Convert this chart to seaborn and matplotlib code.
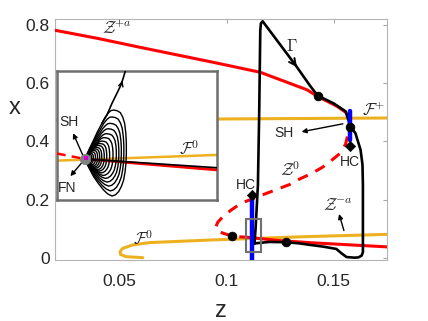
import numpy as np
import matplotlib
matplotlib.use("Agg")
import matplotlib.pyplot as plt
import seaborn as sns
from matplotlib.patches import Rectangle

# --- STYLE ---
sns.set_theme(style="white")
plt.rcParams['font.family'] = ['Liberation Sans', 'DejaVu Sans']
plt.rcParams['mathtext.fontset'] = 'cm'

RED = '#ff0000'
YELLOW = '#edb120'
BLUE = '#0000ff'
TXT = '#262626'

# --- DATA ---
# critical manifold, attracting upper branch Z^{+a}
ZPA_Z = [0.02, 0.04, 0.06, 0.0939, 0.1157, 0.1375, 0.1425, 0.1516, 0.1555, 0.1575]
ZPA_X = [0.781, 0.753, 0.722, 0.671, 0.637, 0.577, 0.554, 0.520, 0.500, 0.482]
# repelling middle branch Z^0 (dashed)
Z0_Z = [0.1575, 0.1568, 0.1555, 0.1528, 0.1495, 0.1449, 0.1397, 0.1341, 0.1294, 0.118,
        0.1069, 0.1022, 0.0983, 0.0958, 0.0949, 0.0958, 0.0983, 0.103, 0.1095]
Z0_X = [0.482, 0.43, 0.39, 0.358, 0.338, 0.312, 0.290, 0.271, 0.252, 0.220,
        0.188, 0.165, 0.142, 0.122, 0.105, 0.093, 0.085, 0.074, 0.071]
# attracting lower branch Z^{-a}
ZMA_Z = [0.1095, 0.1248, 0.14, 0.16, 0.175]
ZMA_X = [0.071, 0.0595, 0.052, 0.044, 0.038]
# folded-node curves
FPLUS_Z = [0.02, 0.175]
FPLUS_X = [0.4733, 0.4802]
F0_Z = [0.0609, 0.0531, 0.0505, 0.0503, 0.0515, 0.0562, 0.064, 0.0936, 0.1364, 0.175]
F0_X = [0.001, 0.0045, 0.012, 0.022, 0.033, 0.0447, 0.0527, 0.062, 0.073, 0.081]
# periodic orbit Gamma
GAM_Z = [0.113, 0.1135, 0.1146, 0.1152, 0.1157, 0.1160, 0.1168, 0.1215, 0.1326, 0.1391,
         0.1425, 0.150, 0.1555, 0.1578, 0.1601, 0.1625, 0.1634, 0.1636, 0.1636, 0.1630,
         0.1615, 0.1598, 0.156, 0.1536, 0.1512, 0.145, 0.1388, 0.134, 0.1277, 0.12, 0.113]
GAM_X = [0.05, 0.1, 0.25, 0.5, 0.78, 0.805, 0.812, 0.766, 0.657, 0.589,
         0.557, 0.530, 0.503, 0.451, 0.428, 0.371, 0.32, 0.25, 0.02, 0.008,
         0.002, 0.001, 0.003, 0.016, 0.031, 0.039, 0.045, 0.050, 0.054, 0.055, 0.05]
# thick blue segments
BLUE1_Z, BLUE1_X = [0.1117, 0.1117], [-0.01, 0.20]
BLUE2_Z, BLUE2_X = [0.1575, 0.1575], [0.405, 0.505]
# markers
HC_Z, HC_X = [0.1117, 0.1575], [0.216, 0.385]
DOT_Z = [0.1425, 0.1578, 0.1025, 0.1277]
DOT_X = [0.554, 0.448, 0.077, 0.056]
BOX = (0.1089, 0.0217, 0.0070, 0.1113)  # z0, x0, width, height

# --- INSET DATA (inset axes units 0..1) ---
P_U, P_V = 0.173, 0.315
IN_F0_U, IN_F0_V = [0.0, 1.0], [0.305, 0.349]
IN_RD_U, IN_RD_V = [0.0, 0.173], [0.36, 0.318]
IN_RS_U, IN_RS_V = [0.173, 1.0], [0.318, 0.233]
IN_BK_U, IN_BK_V = [0.173, 1.0], [0.318, 0.25]
# one loop outline, pixel offsets from the apex
LOOP_DX = [0, 4.5, 9, 13, 17.3, 20.5, 24, 26.5, 29, 32.5, 35.7, 38.2, 40, 41.2, 41.7,
           41.7, 41.3, 40.5, 39, 36.8, 34, 30.8, 27.3, 23, 19, 14, 9, 4.5, 0]
LOOP_DY = [0, 10, 19.3, 28, 36, 42, 46.7, 48.8, 49.3, 48.6, 46.7, 42, 36, 26, 16,
           6, -4, -12, -20.7, -27, -32.3, -35.5, -36.7, -34.5, -30.7, -24.5, -17.3, -8.8, 0]
LOOP_SX = [1.0, 0.94, 0.88, 0.82, 0.76, 0.68, 0.60, 0.53, 0.47, 0.41, 0.36, 0.31, 0.26, 0.21, 0.17, 0.13, 0.09]
LOOP_SY = [1.0, 0.86, 0.73, 0.62, 0.52, 0.44, 0.37, 0.32, 0.28, 0.24, 0.21, 0.18, 0.15, 0.12, 0.10, 0.08, 0.06]
ESC_U = [0.281, 0.312, 0.344, 0.375, 0.400, 0.417, 0.432]
ESC_V = [0.594, 0.658, 0.749, 0.827, 0.891, 0.956, 1.02]

fig = plt.figure(figsize=(4.28, 3.21), dpi=100)
ax = fig.add_axes([0.129, 0.19, 0.776, 0.751])


def line(a, z, x, **kw):
    sns.lineplot(x=z, y=x, sort=False, estimator=None, ax=a, **kw)


line(ax, FPLUS_Z, FPLUS_X, color=YELLOW, linewidth=2.2, zorder=2)
line(ax, F0_Z, F0_X, color=YELLOW, linewidth=2.2, zorder=2)
line(ax, ZPA_Z, ZPA_X, color=RED, linewidth=2.2, zorder=3)
line(ax, Z0_Z, Z0_X, color=RED, linewidth=2.2, linestyle=(0, (3.5, 2.8)), zorder=3)
line(ax, ZMA_Z, ZMA_X, color=RED, linewidth=2.2, zorder=3)
line(ax, GAM_Z, GAM_X, color='black', linewidth=1.9, zorder=4)
line(ax, BLUE1_Z, BLUE1_X, color=BLUE, linewidth=3.2, zorder=5, solid_capstyle='round')
line(ax, BLUE2_Z, BLUE2_X, color=BLUE, linewidth=3.2, zorder=5, solid_capstyle='round')
sns.scatterplot(x=HC_Z, y=HC_X, marker='D', s=28, color='black', edgecolor='black', ax=ax, zorder=6)
sns.scatterplot(x=DOT_Z, y=DOT_X, s=40, color='black', edgecolor='black', ax=ax, zorder=6)
ax.add_patch(Rectangle((BOX[0], BOX[1]), BOX[2], BOX[3], fill=False,
                       edgecolor='#707070', linewidth=1.5, zorder=7))

# arrows
ax.annotate('', xy=(0.1336, 0.647), xytext=(0.1316, 0.667),
            arrowprops=dict(arrowstyle='->', color='black', lw=1.4, mutation_scale=12), zorder=8)
ax.annotate('', xy=(0.1337, 0.431), xytext=(0.1555, 0.462),
            arrowprops=dict(arrowstyle='-|>', color='black', lw=1.0, mutation_scale=7), zorder=8)
ax.annotate('', xy=(0.1521, 0.160), xytext=(0.1551, 0.085),
            arrowprops=dict(arrowstyle='-|>', color='black', lw=1.0, mutation_scale=7), zorder=8)

# labels
ax.text(0.049, 0.79, r'$\mathcal{Z}^{+a}$', fontsize=12, ha='center', va='center')
ax.text(0.1304, 0.726, r'$\Gamma$', fontsize=12, ha='center', va='center')
ax.text(0.1687, 0.509, r'$\mathcal{F}^{+}$', fontsize=12, ha='center', va='center')
ax.text(0.1266, 0.428, 'SH', fontsize=10, ha='center', va='center')
ax.text(0.1575, 0.33, 'HC', fontsize=10, ha='center', va='center')
ax.text(0.1092, 0.25, 'HC', fontsize=10, ha='center', va='center')
ax.text(0.1298, 0.302, r'$\mathcal{Z}^{0}$', fontsize=12, ha='center', va='center')
ax.text(0.152, 0.182, r'$\mathcal{Z}^{-a}$', fontsize=12, ha='center', va='center')
ax.text(0.0612, 0.066, r'$\mathcal{F}^{0}$', fontsize=12, ha='center', va='center')

ax.set_xlim(0.02, 0.175)
ax.set_ylim(-0.007, 0.82)
ax.set_xticks([0.05, 0.1, 0.15])
ax.set_xticklabels(['0.05', '0.1', '0.15'])
ax.set_yticks([0, 0.2, 0.4, 0.6, 0.8])
ax.set_yticklabels(['0', '0.2', '0.4', '0.6', '0.8'])
ax.tick_params(direction='in', length=3, width=0.8, top=True, right=True,
               color='#a8a8a8', labelcolor=TXT, labelsize=12.5)
ax.tick_params(axis='x', pad=10)
ax.tick_params(axis='y', pad=4)
for sp in ax.spines.values():
    sp.set_color('#b4b4b4')
    sp.set_linewidth(0.8)
ax.set_xlabel('z', fontsize=17, color=TXT, va='center')
ax.xaxis.set_label_coords(0.5, -0.21)
ax.set_ylabel('x', fontsize=17, color=TXT, rotation=0, ha='center', va='center')
ax.yaxis.set_label_coords(-0.121, 0.63)

# --- INSET ---
axi = fig.add_axes([0.133, 0.377, 0.374, 0.402])
axi.set_facecolor('white')
line(axi, IN_F0_U, IN_F0_V, color=YELLOW, linewidth=1.8, zorder=2)
line(axi, IN_RD_U, IN_RD_V, color=RED, linewidth=1.8, linestyle=(0, (3.5, 2.5)), zorder=3)
line(axi, IN_RS_U, IN_RS_V, color=RED, linewidth=2.0, zorder=3)
line(axi, IN_BK_U, IN_BK_V, color='black', linewidth=1.2, zorder=4)
ldx = np.array(LOOP_DX) / 160.0
ldy = np.array(LOOP_DY) / 129.0
for sx, sy in zip(LOOP_SX, LOOP_SY):
    line(axi, P_U + sx * ldx, P_V + sy * ldy, color='black', linewidth=1.0, zorder=4)
line(axi, ESC_U, ESC_V, color='black', linewidth=1.2, zorder=4)
axi.annotate('', xy=(0.409, 0.925), xytext=(0.400, 0.885),
             arrowprops=dict(arrowstyle='->', color='black', lw=1.0, mutation_scale=8))
axi.annotate('', xy=(0.094, 0.537), xytext=(P_U, P_V),
             arrowprops=dict(arrowstyle='-|>', color='black', lw=1.0, mutation_scale=7))
axi.annotate('', xy=(0.073, 0.168), xytext=(P_U, P_V),
             arrowprops=dict(arrowstyle='-|>', color='black', lw=1.0, mutation_scale=7))
sns.scatterplot(x=[P_U], y=[P_V], s=55, color='#808080', edgecolor='#808080', ax=axi, zorder=6)
sns.scatterplot(x=[P_U + 0.006], y=[P_V + 0.012], s=8, marker='s', color='#d000d0',
                edgecolor='none', ax=axi, zorder=7)
axi.text(0.073, 0.607, 'SH', fontsize=10, ha='center', va='center')
axi.text(0.0625, 0.09, 'FN', fontsize=10, ha='center', va='center')
axi.text(0.823, 0.40, r'$\mathcal{F}^{0}$', fontsize=12, ha='center', va='center')
axi.set_xlim(0, 1)
axi.set_ylim(0, 1)
axi.set_xticks([])
axi.set_yticks([])
axi.set_xlabel('')
axi.set_ylabel('')
for sp in axi.spines.values():
    sp.set_color('#6e6e6e')
    sp.set_linewidth(1.8)

fig.savefig('out.png', dpi=100)
